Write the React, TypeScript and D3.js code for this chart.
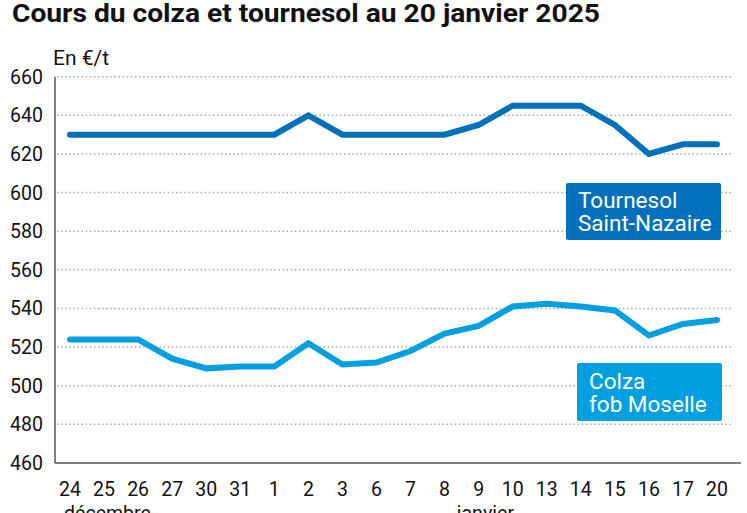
import React, { useEffect } from "react";
import * as d3 from "d3";

const days = ["24","25","26","27","30","31","1","2","3","6","7","8","9","10","13","14","15","16","17","20"];
const tournesol = [630,630,630,630,630,630,630,640,630,630,630,630,635,645,645,645,635,620,625,625];
const colza = [524,524,524,514,509,510,510,522,511,512,518,527,531,541,542.5,541,539,526,532,534];
const yTicks = [460,480,500,520,540,560,580,600,620,640,660];
const months = [{ label: "décembre", at: 1.1 }, { label: "janvier", at: 12.2 }];
const tournesolLabel = ["Tournesol", "Saint-Nazaire"];
const colzaLabel = ["Colza", "fob Moselle"];

const TITLE = "Cours du colza et tournesol au 20 janvier 2025";
const UNIT = "En €/t";
const DARK = "#0070BA";
const LIGHT = "#009FE0";
const FONT = "Roboto, 'Noto Sans', sans-serif";

export default function App() {
  useEffect(() => {
    document.body.style.margin = "0";
  }, []);

  const W = 747, H = 513;
  const x = d3.scalePoint<string>().domain(days).range([70, 717]);
  const y = d3.scaleLinear().domain([460, 660]).range([463, 76.7]);

  const line = d3
    .line<number>()
    .x((_, i) => x(days[i]) as number)
    .y((d) => y(d));

  const xIdx = d3.scaleLinear().domain([0, days.length - 1]).range([70, 717]);

  return (
    <svg width={W} height={H} style={{ display: "block", background: "#fff" }} fontFamily={FONT}>
      <text x={12} y={22} fontSize={26.5} fontWeight={700} fill="#111" textLength={588} lengthAdjust="spacingAndGlyphs">
        {TITLE}
      </text>
      <text x={53} y={65} fontSize={21} fill="#111">{UNIT}</text>

      {yTicks.map((t) => (
        <g key={t}>
          {t !== 460 && (
            <line x1={57} x2={733} y1={y(t)} y2={y(t)} stroke="#a8a8a8" strokeWidth={1.5} strokeDasharray="1.5,2.6" />
          )}
          <text x={43} y={y(t) + 7} fontSize={19.5} textAnchor="end" fill="#111">{t}</text>
        </g>
      ))}

      <line x1={55} x2={55} y1={y(660)} y2={y(460)} stroke="#555" strokeWidth={1.5} />
      <line x1={55} x2={741} y1={y(460)} y2={y(460)} stroke="#555" strokeWidth={1.5} />

      {days.map((d) => (
        <text key={d} x={x(d)} y={496} fontSize={19.5} textAnchor="middle" fill="#111">{d}</text>
      ))}
      {months.map((m) => (
        <text key={m.label} x={xIdx(m.at)} y={520} fontSize={19.5} textAnchor="middle" fill="#111">{m.label}</text>
      ))}

      <path d={line(tournesol) || ""} fill="none" stroke={DARK} strokeWidth={6} strokeLinecap="round" strokeLinejoin="miter" />
      <path d={line(colza) || ""} fill="none" stroke={LIGHT} strokeWidth={6} strokeLinecap="round" strokeLinejoin="miter" />

      <rect x={566} y={183} width={155} height={57} rx={2} fill={DARK} />
      <text fontSize={22.5} fill="#fff">
        {tournesolLabel.map((s, i) => (
          <tspan key={s} x={578} y={208 + i * 23}>{s}</tspan>
        ))}
      </text>

      <rect x={577} y={363} width={145} height={58} rx={2} fill={LIGHT} />
      <text fontSize={22.5} fill="#fff">
        {colzaLabel.map((s, i) => (
          <tspan key={s} x={589} y={389 + i * 23}>{s}</tspan>
        ))}
      </text>
    </svg>
  );
}
